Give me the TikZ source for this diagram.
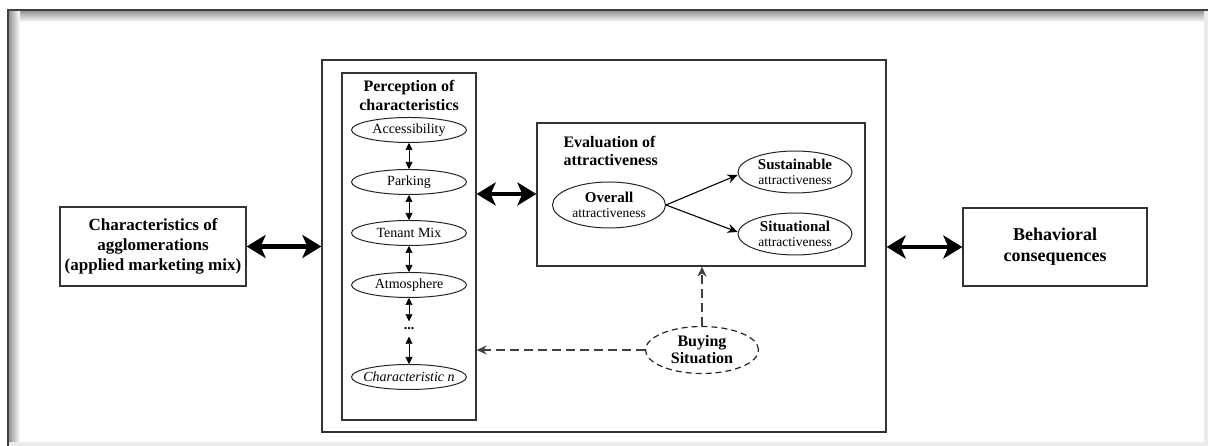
\documentclass[tikz,border=0pt]{standalone}
\usepackage{fontspec}
\setmainfont{Liberation Serif}
\usetikzlibrary{arrows.meta,shapes.geometric,positioning}
\tikzset{
  caja/.style={draw=black!80,line width=1.3pt,align=center,inner sep=0pt},
  titulo/.style={align=center,font=\bfseries\fontsize{16}{19}\selectfont},
  elipse/.style={ellipse,draw=black!85,line width=1pt,inner xsep=-12pt,inner ysep=-6pt,align=center,font=\fontsize{14}{14}\selectfont},
  dobleflecha/.style={{Stealth[length=19pt,width=23pt,inset=5pt]}-{Stealth[length=19pt,width=23pt,inset=5pt]},line width=4.5pt},
  flechita/.style={{Triangle[length=7pt,width=7pt]}-{Triangle[length=7pt,width=7pt]},line width=0.6pt},
  flecha/.style={-{Stealth[length=10pt,width=9pt]},line width=1.1pt},
  discontinua/.style={-{Stealth[length=10pt,width=9pt]},line width=1.4pt,dash pattern=on 9pt off 5pt,black!75}
}

\begin{document}
\begin{tikzpicture}[x=1pt,y=1pt]
\useasboundingbox (0,0) rectangle (1208,446);
% marco con sombra
\shade[top color=black!45,bottom color=white] (8,424) rectangle (1208,436);
\shade[left color=black!45,right color=white] (8,0) rectangle (20,436);
\fill[black!8] (1204,0) rectangle (1208,436);
\fill[black!8] (8,0) rectangle (1208,4);
\draw[black!75,line width=1.5pt] (8,0) -- (8,436) -- (1208,436);

% cajas exteriores
\node[caja,minimum width=186,minimum height=79,font=\bfseries\fontsize{17}{20}\selectfont] (agl) at (153,199.5)
  {Characteristics of\\agglomerations\\(applied marketing mix)};
\node[caja,minimum width=184,minimum height=78,font=\bfseries\fontsize{18}{21}\selectfont] (cons) at (1055,199)
  {Behavioral\\consequences};
\node[caja,minimum width=564,minimum height=372] (medio) at (604,200) {};

% percepcion
\node[caja,minimum width=134,minimum height=347] (perc) at (409,199.5) {};
\node[titulo] (ptit) at (409,351) {Perception of\\characteristics};
\node[elipse,minimum width=115,minimum height=25] (acc) at (409,316) {Accessibility};
\node[elipse,minimum width=115,minimum height=25] (par) at (409,264) {Parking};
\node[elipse,minimum width=115,minimum height=25] (ten) at (409,213) {Tenant Mix};
\node[elipse,minimum width=115,minimum height=25] (atm) at (409,161) {Atmosphere};
\node[inner sep=0pt,minimum height=15,font=\fontsize{14}{14}\selectfont] (pts) at (409,117) {\textbf{...}};
\node[elipse,minimum width=115,minimum height=25,font=\itshape\fontsize{14}{14}\selectfont] (carn) at (409,69) {Characteristic n};
\draw[flechita] (acc) -- (par);
\draw[flechita] (par) -- (ten);
\draw[flechita] (ten) -- (atm);
\draw[flechita] (atm) -- (pts);
\draw[flechita] (pts) -- (carn);

% evaluacion
\node[caja,minimum width=328,minimum height=143] (eval) at (701,251.5) {};
\node[titulo,align=left,anchor=west,font=\bfseries\fontsize{16}{18}\selectfont] (etit) at (560,295) {Evaluation of\\attractiveness};
\node[elipse,minimum width=113,minimum height=46,font=\fontsize{13.5}{15}\selectfont] (glob) at (609,241)
  {\textbf{\fontsize{15}{15}\selectfont Overall}\\attractiveness};
\node[elipse,minimum width=114,minimum height=42,font=\fontsize{13.5}{15}\selectfont] (sost) at (795,274)
  {\textbf{\fontsize{15}{15}\selectfont Sustainable}\\attractiveness};
\node[elipse,minimum width=114,minimum height=42,font=\fontsize{13.5}{15}\selectfont] (sit) at (795,212)
  {\textbf{\fontsize{15}{15}\selectfont Situational}\\attractiveness};
\draw[flecha] (glob.east) -- (sost.west |- 0,271);
\draw[flecha] (glob.east) -- (sit.west |- 0,214);

% situacion de compra
\node[elipse,minimum width=113,minimum height=47,dashed,dash pattern=on 6pt off 4pt,line width=1.2pt,
  font=\bfseries\fontsize{16}{17}\selectfont] (compra) at (702,96) {Buying\\Situation};
\draw[discontinua] (compra.north) -- (eval.south -| compra.north);
\draw[discontinua] (compra.west) -- (perc.east |- compra.west);

% flechas gruesas
\draw[dobleflecha] (agl.east) -- (medio.west |- agl.east);
\draw[dobleflecha] (medio.east |- cons.west) -- (cons.west);
\draw[dobleflecha] (perc.east |- 0,252) -- (eval.west |- 0,252);
\end{tikzpicture}
\end{document}
